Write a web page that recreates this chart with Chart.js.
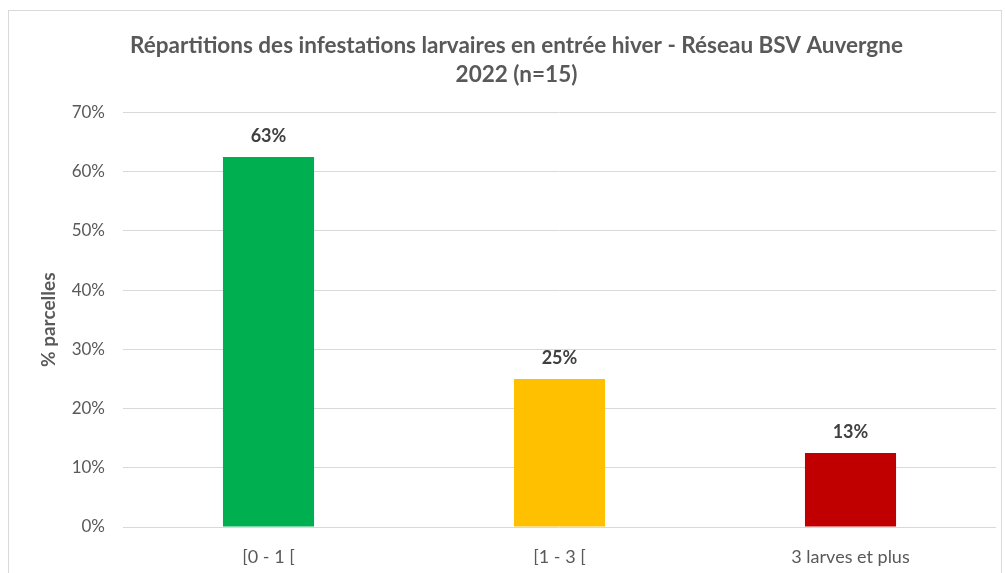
<!DOCTYPE html>
<html>
<head>
<meta charset="utf-8">
<script src="https://cdn.jsdelivr.net/npm/chart.js@4"></script>
<style>
  html, body { margin: 0; padding: 0; background: #fff; }
  #wrap { position: relative; width: 1005px; height: 573px; overflow: hidden; }
  #frame { position: absolute; left: 8px; top: 10px; width: 994px; height: 600px; border: 1px solid #d9d9d9; box-sizing: border-box; }
  canvas { position: absolute; left: 0; top: 0; }
</style>
</head>
<body>
<div id="wrap">
  <div id="frame"></div>
  <canvas id="chart" width="1005" height="573"></canvas>
</div>
<script>
// --- DATA ---
const categories = ['[0 - 1 [', '[1 - 3 [', '3 larves et plus'];
const shares = [62.5, 25, 12.5];
const barColors = ['#00B050', '#FFC000', '#C00000'];
const titleLines = ['Répartitions des infestations larvaires en entrée hiver - Réseau BSV Auvergne', '2022 (n=15)'];
const yTitle = '% parcelles';

const FONT = 'Lato, "Open Sans", sans-serif';
const GREY = '#595959';

// labels above the bars
const barLabels = {
  id: 'barLabels',
  afterDatasetsDraw(chart) {
    const ctx = chart.ctx;
    const meta = chart.getDatasetMeta(0);
    ctx.save();
    ctx.font = 'bold 18px ' + FONT;
    ctx.fillStyle = '#404040';
    ctx.textAlign = 'center';
    ctx.textBaseline = 'middle';
    meta.data.forEach((bar, i) => {
      ctx.fillText(Math.round(shares[i]) + '%', bar.x, bar.y - 21);
    });
    ctx.restore();
  }
};

const ctx = document.getElementById('chart').getContext('2d');
new Chart(ctx, {
  type: 'bar',
  data: {
    labels: categories,
    datasets: [{ data: shares, backgroundColor: barColors, borderWidth: 0, categoryPercentage: 1, barPercentage: 0.313 }]
  },
  options: {
    responsive: false, animation: false,
    layout: { padding: { left: 37, right: 9, top: 0, bottom: 0 } },
    plugins: {
      legend: { display: false },
      tooltip: { enabled: false },
      title: {
        display: true, text: titleLines, color: GREY,
        font: { family: FONT, size: 22.5, weight: 'bold', lineHeight: 1.3 },
        padding: { top: 31, bottom: 23 }
      }
    },
    scales: {
      x: {
        grid: { display: false }, border: { display: false },
        ticks: { color: GREY, font: { family: FONT, size: 18 }, padding: 11 },
        afterFit: s => { s.height = 46; }
      },
      y: {
        min: 0, max: 70,
        grid: { color: '#d9d9d9', drawTicks: false }, border: { display: false },
        ticks: { stepSize: 10, color: GREY, font: { family: FONT, size: 17 }, padding: 18, callback: v => v + '%' },
        title: { display: true, text: yTitle, color: GREY, font: { family: FONT, size: 19, weight: 'bold' }, padding: 0 },
        afterFit: s => { s.width = 86; }
      }
    }
  },
  plugins: [barLabels]
});
</script>
</body>
</html>
